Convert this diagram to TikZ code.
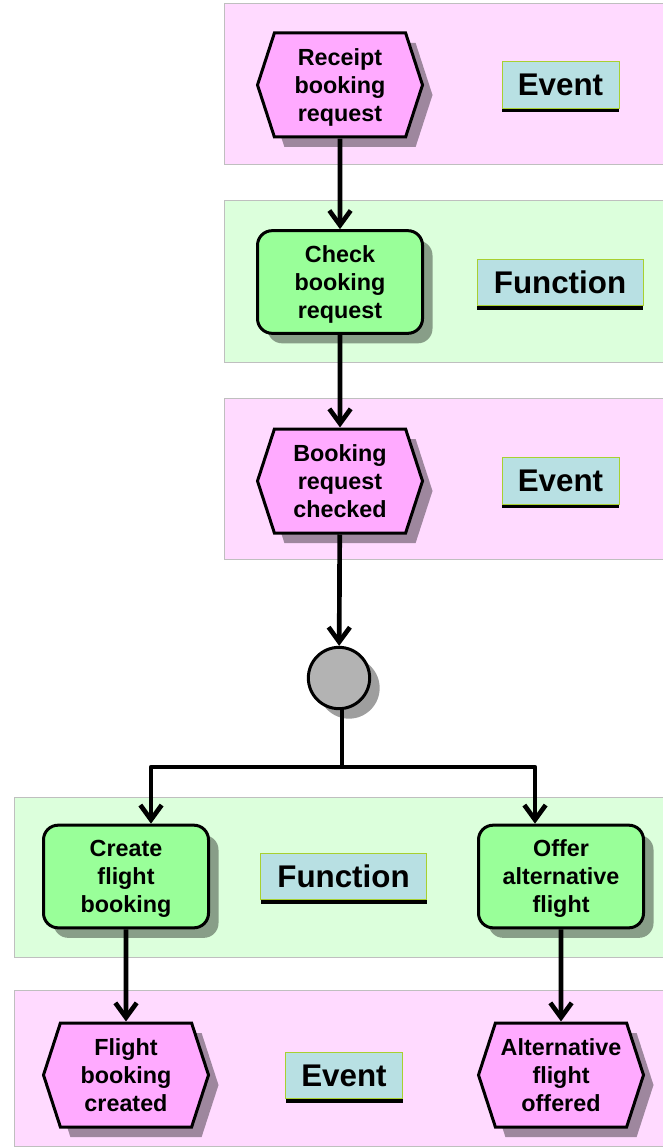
\documentclass[tikz,border=0pt]{standalone}
\usepackage{fontspec}
\setmainfont{Liberation Sans}
\usetikzlibrary{arrows.meta}
\usetikzlibrary{shapes.symbols}
\usetikzlibrary{shadows}
\definecolor{bandpink}{HTML}{FFDAFF}
\definecolor{bandgreen}{HTML}{DCFFDC}
\definecolor{eventfill}{HTML}{FFAAFF}
\definecolor{functionfill}{HTML}{99FF99}
\definecolor{labelfill}{HTML}{B8E0E3}
\definecolor{labeldraw}{HTML}{A8D030}
\definecolor{joinfill}{HTML}{B3B3B3}
\tikzset{
semithick, % All lines semithick
>={Straight Barb[length=11pt,width=16pt]}, % All arrows open and wide
my band/.style={draw=black!25,line width=0.75pt},
event band/.style={my band,fill=bandpink},
function band/.style={my band,fill=bandgreen},
my shadow/.style={drop shadow={shadow xshift=7.5pt,shadow yshift=-7.5pt,fill=black,opacity=0.38}},
my box/.style={draw,line width=2.25pt,inner sep=0pt,align=center,text depth=0pt,
  font=\bfseries\fontsize{17.5}{21}\selectfont,my shadow},
my event/.style={my box,signal,signal to=east and west,signal pointer angle=144,
  fill=eventfill,minimum width=123.75pt,minimum height=78pt},
my function/.style={my box,rectangle,rounded corners=11pt,
  fill=functionfill,minimum width=123.75pt,minimum height=77pt},
my join/.style={my box,circle,fill=joinfill,minimum size=46pt},
my label/.style={draw=labeldraw,line width=0.75pt,fill=labelfill,inner sep=0pt,
  minimum height=35pt,font=\bfseries\fontsize{23.5}{28}\selectfont,
  drop shadow={shadow xshift=0pt,shadow yshift=-3pt,fill=black,opacity=1}},
my connector/.style={line width=3.5pt}
}
\begin{document}
\begin{tikzpicture}[x=0.75pt,y=-0.75pt]
\useasboundingbox (0,0) rectangle (662,1148);
\path[event band] (224,4) rectangle (672,165);
\path[function band] (224,201) rectangle (672,362);
\path[event band] (224,398) rectangle (672,559);
\path[function band] (14,797) rectangle (672,957);
\path[event band] (14,990) rectangle (672,1146);

\node[my event] (e1) at (340,85) {Receipt\\booking\\request};
\node[my function] (f1) at (340,282) {Check\\booking\\request};
\node[my event] (e2) at (340,481) {Booking\\request\\checked};
\node[my join] (xor) at (339,678) {};
\node[my function] (f2) at (126,876.5) {Create\\flight\\booking};
\node[my function] (f3) at (561,876.5) {Offer\\alternative\\flight};
\node[my event] (e3) at (126,1075) {Flight\\booking\\created};
\node[my event] (e4) at (561,1075) {Alternative\\flight\\offered};

\node[my label,minimum width=87.75pt] (l1) at (560.5,85) {Event};
\node[my label,minimum width=124.5pt] (l2) at (560,282.5) {Function};
\node[my label,minimum width=87.75pt] (l3) at (560.5,481) {Event};
\node[my label,minimum width=124.5pt] (l4) at (343.5,876.5) {Function};
\node[my label,minimum width=87.75pt] (l5) at (344,1075.5) {Event};

\coordinate (fork) at (342,767);
\coordinate (fork left) at (151,767);
\coordinate (fork right) at (535,767);
\path[my connector,->]
  (e1) edge (f1)
  (f1) edge (e2)
  (e2) edge (xor)
  (f2) edge (e3)
  (f3) edge (e4);
\draw[my connector,line join=round] (xor.south -| fork) -- (fork);
\draw[my connector,->,line join=round] (fork) -| (fork left |- f2.north);
\draw[my connector,->,line join=round] (fork) -| (fork right |- f3.north);
\end{tikzpicture}
\end{document}
